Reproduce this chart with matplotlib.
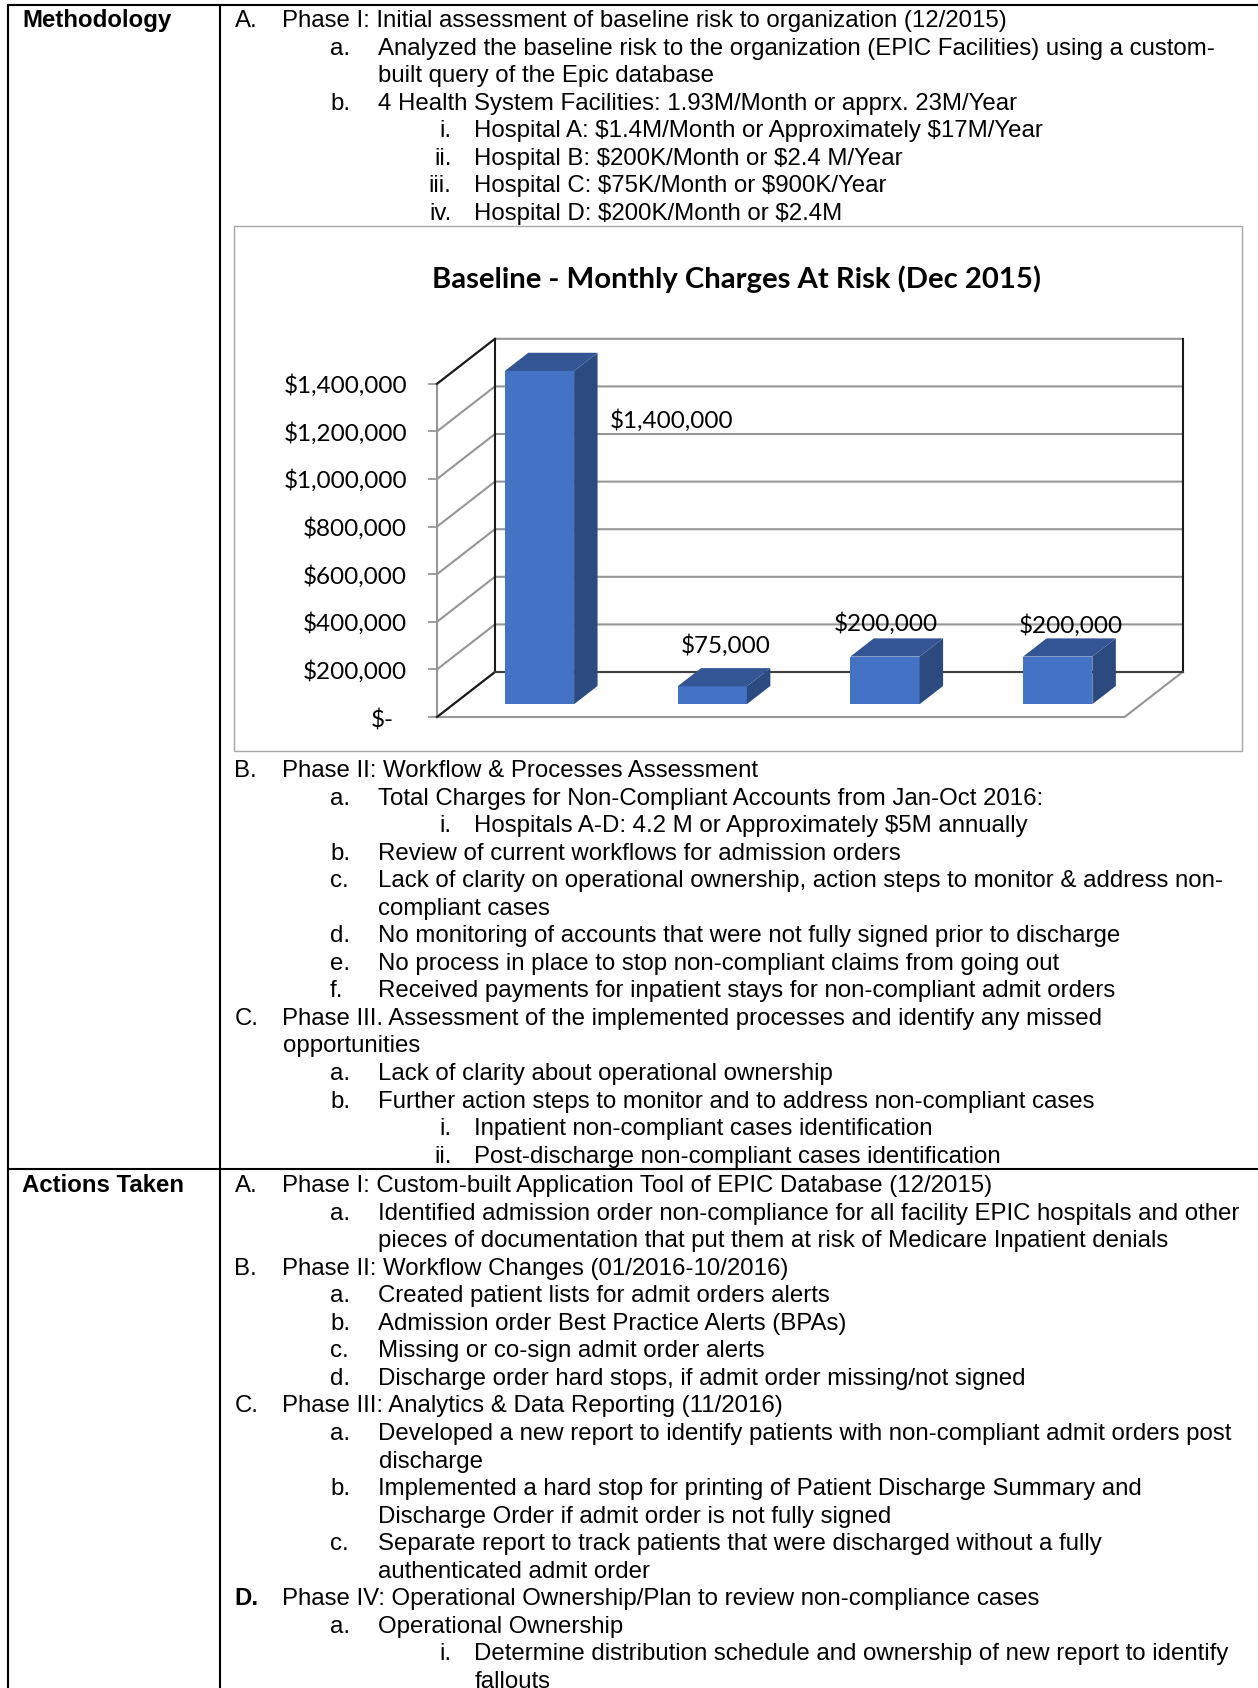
"""
Charge-compliance worksheet: methodology / actions table with the baseline 3D bar chart.
"""

import matplotlib
matplotlib.use("Agg")
import matplotlib.pyplot as plt
from matplotlib.patches import Polygon, Rectangle

WIDTH, HEIGHT = 1258, 1688

# chart values
charges = [1400000, 75000, 200000, 200000]
value_labels = ["$1,400,000", "$75,000", "$200,000", "$200,000"]
tick_values = [0, 200000, 400000, 600000, 800000, 1000000, 1200000, 1400000]
tick_labels = ["$-", "$200,000", "$400,000", "$600,000", "$800,000",
               "$1,000,000", "$1,200,000", "$1,400,000"]
chart_title = "Baseline - Monthly Charges At Risk (Dec 2015)"

# outline rows: (level, marker, text)
phase_one_rows = [
    (0, "A.", "Phase I: Initial assessment of baseline risk to organization (12/2015)"),
    (1, "a.", "Analyzed the baseline risk to the organization (EPIC Facilities) using a custom-"),
    (1, "", "built query of the Epic database"),
    (1, "b.", "4 Health System Facilities: 1.93M/Month or apprx. 23M/Year"),
    (2, "i.", "Hospital A: $1.4M/Month or Approximately $17M/Year"),
    (2, "ii.", "Hospital B: $200K/Month or $2.4 M/Year"),
    (2, "iii.", "Hospital C: $75K/Month or $900K/Year"),
    (2, "iv.", "Hospital D: $200K/Month or $2.4M"),
]
later_phase_rows = [
    (0, "B.", "Phase II: Workflow & Processes Assessment"),
    (1, "a.", "Total Charges for Non-Compliant Accounts from Jan-Oct 2016:"),
    (2, "i.", "Hospitals A-D: 4.2 M or Approximately $5M annually"),
    (1, "b.", "Review of current workflows for admission orders"),
    (1, "c.", "Lack of clarity on operational ownership, action steps to monitor & address non-"),
    (1, "", "compliant cases"),
    (1, "d.", "No monitoring of accounts that were not fully signed prior to discharge"),
    (1, "e.", "No process in place to stop non-compliant claims from going out"),
    (1, "f.", "Received payments for inpatient stays for non-compliant admit orders"),
    (0, "C.", "Phase III. Assessment of the implemented processes and identify any missed"),
    (0, "", "opportunities"),
    (1, "a.", "Lack of clarity about operational ownership"),
    (1, "b.", "Further action steps to monitor and to address non-compliant cases"),
    (2, "i.", "Inpatient non-compliant cases identification"),
    (2, "ii.", "Post-discharge non-compliant cases identification"),
]
action_rows = [
    (0, "A.", "Phase I: Custom-built Application Tool of EPIC Database (12/2015)"),
    (1, "a.", "Identified admission order non-compliance for all facility EPIC hospitals and other"),
    (1, "", "pieces of documentation that put them at risk of Medicare Inpatient denials"),
    (0, "B.", "Phase II: Workflow Changes (01/2016-10/2016)"),
    (1, "a.", "Created patient lists for admit orders alerts"),
    (1, "b.", "Admission order Best Practice Alerts (BPAs)"),
    (1, "c.", "Missing or co-sign admit order alerts"),
    (1, "d.", "Discharge order hard stops, if admit order missing/not signed"),
    (0, "C.", "Phase III: Analytics & Data Reporting (11/2016)"),
    (1, "a.", "Developed a new report to identify patients with non-compliant admit orders post"),
    (1, "", "discharge"),
    (1, "b.", "Implemented a hard stop for printing of Patient Discharge Summary and"),
    (1, "", "Discharge Order if admit order is not fully signed"),
    (1, "c.", "Separate report to track patients that were discharged without a fully"),
    (1, "", "authenticated admit order"),
    (0, "D.", "Phase IV: Operational Ownership/Plan to review non-compliance cases"),
    (1, "a.", "Operational Ownership"),
    (2, "i.", "Determine distribution schedule and ownership of new report to identify"),
    (2, "", "fallouts"),
]

TEXT_FONT = "Liberation Sans"
CHART_FONT = "Lato"
TEXT_SIZE = 17.27
ROW_STEP = 27.55
MARKER_X = {0: 234.5, 1: 330, 2: 451.5}
BODY_X = {0: 282.5, 1: 378.5, 2: 474.5}

FRONT = "#4472c4"
TOP = "#335593"
SIDE = "#2a4a80"
GRID = "#969696"
DARK = "#1a1a1a"

# oblique projection of the chart floor, in category units and dollars
DEPTH_X = 0.337
DEPTH_Y = 189000
BAR_WIDTH = 0.403
BAR_NEAR = 0.285
BAR_FAR = 0.69
BAR_PITCH = 1.005


def draw_rows(ax, rows, first_baseline):
    for n, (level, marker, text) in enumerate(rows):
        # snap the baseline so marker and body land on the same pixel row
        y = round(first_baseline + n * ROW_STEP) + 0.2
        if marker:
            # the roman numerals hang from the right, the others from the left
            ha = "right" if level == 2 else "left"
            weight = "bold" if marker == "D." else "normal"
            ax.text(MARKER_X[level], y, marker, ha=ha, va="baseline", parse_math=False,
                    family=TEXT_FONT, size=TEXT_SIZE, weight=weight, color="black")
        ax.text(BODY_X[level], y, text, ha="left", va="baseline", parse_math=False,
                family=TEXT_FONT, size=TEXT_SIZE, color="black")


def depth_point(x, value, depth):
    return x + DEPTH_X * depth, value + DEPTH_Y * depth


def draw_bar(ax, x, value):
    left, right = x - BAR_WIDTH / 2, x + BAR_WIDTH / 2
    a = depth_point(left, 0, BAR_NEAR)
    b = depth_point(right, 0, BAR_NEAR)
    c = depth_point(right, value, BAR_NEAR)
    d = depth_point(left, value, BAR_NEAR)
    e = depth_point(right, 0, BAR_FAR)
    f = depth_point(right, value, BAR_FAR)
    g = depth_point(left, value, BAR_FAR)
    ax.add_patch(Polygon([a, b, c, d], facecolor=FRONT, edgecolor="none", zorder=5))
    ax.add_patch(Polygon([b, e, f, c], facecolor=SIDE, edgecolor="none", zorder=5))
    ax.add_patch(Polygon([d, c, f, g], facecolor=TOP, edgecolor="none", zorder=5))


fig = plt.figure(figsize=(WIDTH / 100, HEIGHT / 100), dpi=100, facecolor="white")

# page layer in pixel coordinates
page = fig.add_axes([0, 0, 1, 1])
page.set_xlim(0, WIDTH)
page.set_ylim(HEIGHT, 0)
page.axis("off")

for x in (8, 220):
    page.plot([x, x], [4.5, HEIGHT], color="black", lw=1.5, solid_capstyle="butt")
for y in (4.7, 1169):
    page.plot([7, WIDTH], [y, y], color="black", lw=1.5, solid_capstyle="butt")

page.text(22, 27.2, "Methodology", family=TEXT_FONT, size=TEXT_SIZE, weight="bold", va="baseline")
page.text(22, 1192.2, "Actions Taken", family=TEXT_FONT, size=TEXT_SIZE, weight="bold", va="baseline")

draw_rows(page, phase_one_rows, 27)
draw_rows(page, later_phase_rows, 777)
draw_rows(page, action_rows, 1192)

box_left, box_top, box_w, box_h = 234, 226, 1008, 525
page.add_patch(Rectangle((box_left, box_top), box_w, box_h, facecolor="white",
                         edgecolor="#a6a6a6", lw=1.0, zorder=3))

# chart layer: x in category slots, y in dollars, scaled so the floor and
# the top tick land on the right rows of the sheet
SLOT_PX = 171.9
DOLLAR_PX = 47.6 / 200000
chart = fig.add_axes([box_left / WIDTH, 1 - (box_top + box_h) / HEIGHT, box_w / WIDTH, box_h / HEIGHT])
chart.set_xlim(-0.5 - (437 - box_left) / SLOT_PX, -0.5 + (box_left + box_w - 437) / SLOT_PX)
chart.set_ylim(-(box_top + box_h - 717) / DOLLAR_PX, (717 - box_top) / DOLLAR_PX)
chart.axis("off")
chart.patch.set_alpha(0)

x_lo, x_hi = -0.5, len(charges) - 0.5
top_value = tick_values[-1]

# walls and floor
for value in tick_values:
    back_l = depth_point(x_lo, value, 1)
    back_r = depth_point(x_hi, value, 1)
    chart.plot([x_lo, back_l[0], back_r[0]], [value, back_l[1], back_r[1]],
               color=GRID, lw=1.5, zorder=2, solid_joinstyle="miter")
    chart.plot([x_lo - 0.045, x_lo], [value, value], color=GRID, lw=1.3, zorder=2)

back_tl = depth_point(x_lo, top_value, 1)
back_bl = depth_point(x_lo, 0, 1)
back_br = depth_point(x_hi, 0, 1)
back_tr = depth_point(x_hi, top_value, 1)
chart.plot([x_lo, x_hi, back_br[0]], [0, 0, back_br[1]], color=GRID, lw=1.5, zorder=2)
chart.plot([x_lo, x_lo], [0, top_value], color=GRID, lw=1.5, zorder=2)

# dark wall edges
chart.plot([back_tl[0], back_bl[0]], [back_tl[1], back_bl[1]], color=DARK, lw=1.5, zorder=3)
chart.plot([back_tr[0], back_br[0]], [back_tr[1], back_br[1]], color=DARK, lw=1.5, zorder=3)
chart.plot([x_lo, back_tl[0]], [top_value, back_tl[1]], color=DARK, lw=1.5, zorder=3)
chart.plot([x_lo, back_bl[0]], [0, back_bl[1]], color=DARK, lw=1.5, zorder=3)
chart.plot([back_bl[0], back_br[0]], [back_bl[1], back_br[1]], color="#404040", lw=1.5, zorder=3)

for i, value in enumerate(charges):
    draw_bar(chart, i * BAR_PITCH, value)

for value, label in zip(tick_values, tick_labels):
    # the dash-only zero label sits a little inboard of the money column
    tick_x = x_lo - 0.175 if value else x_lo - 0.25
    nudge = -2 if value else -4
    chart.annotate(label, (tick_x, value), xytext=(0, nudge), textcoords="offset pixels",
                   ha="right", va="center", family=CHART_FONT, size=17.5, color="black",
                   zorder=6, parse_math=False)

# label offsets from the top of each bar, in pixels
label_offsets = [(132, -50), (13, 41), (1, 33), (13, 31)]
for i, (value, label) in enumerate(zip(charges, value_labels)):
    fx, fy = depth_point(i * BAR_PITCH, value, BAR_NEAR)
    chart.annotate(label, (fx, fy), xytext=label_offsets[i], textcoords="offset pixels",
                   ha="center", va="center", family=CHART_FONT, size=17.5, zorder=6, parse_math=False)

chart.text(0.499, 0.899, chart_title, transform=chart.transAxes, ha="center", va="center",
           family=CHART_FONT, size=21.05, weight="bold", color="black")

fig.savefig("out.png", dpi=100)
